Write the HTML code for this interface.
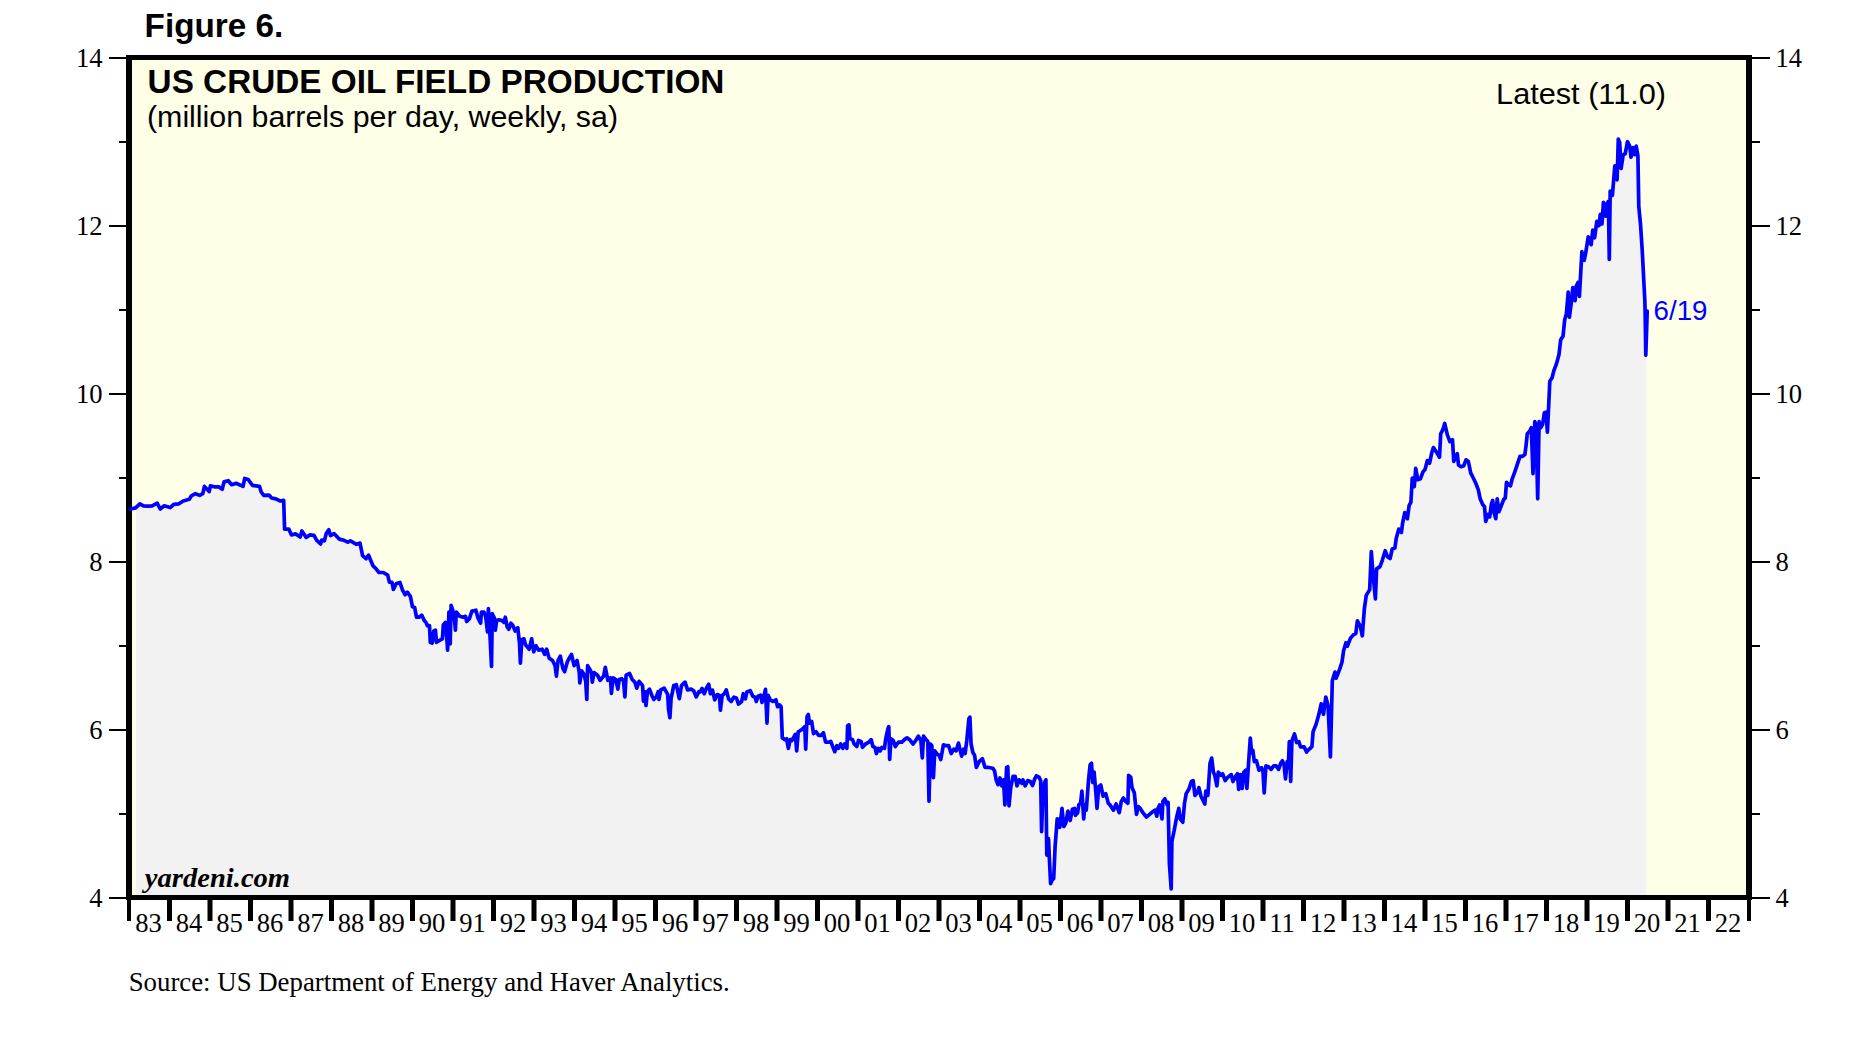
<!DOCTYPE html>
<html><head><meta charset="utf-8"><title>Figure 6. US Crude Oil Field Production</title>
<style>html,body{margin:0;padding:0;background:#fff}svg{display:block}</style></head>
<body>
<svg width="1856" height="1039" viewBox="0 0 1856 1039">
<rect x="0" y="0" width="1856" height="1039" fill="#fff"/>
<rect x="129" y="57" width="1620" height="840" fill="#ffffe8"/>
<path d="M136,896 L136,503.8 L139.9,503.8 L143.4,505.8 L147.7,506.2 L152.1,505.8 L157.2,503.2 L160.2,509.0 L164.2,505.8 L170.2,507.6 L173.7,504.4 L178.9,503.8 L183.2,501.0 L189.3,499.3 L191.4,495.8 L195.4,493.7 L199.7,495.4 L202.8,493.7 L204.4,486.4 L209.2,491.6 L210.4,485.9 L214.4,486.8 L218.8,486.8 L222.2,489.4 L224.0,481.9 L228.3,480.7 L231.7,484.7 L236.1,483.3 L243.0,486.4 L244.7,478.5 L248.2,479.5 L252.5,485.4 L259.5,486.4 L261.2,492.0 L263.8,495.4 L269.0,495.1 L271.6,498.0 L275.9,498.9 L280.3,501.0 L283.7,500.3 L284.6,529.2 L288.9,529.2 L291.5,534.9 L295.8,533.9 L300.2,537.0 L301.9,531.0 L306.2,537.4 L309.7,534.9 L314.0,535.3 L316.6,540.1 L320.6,544.0 L321.8,540.1 L324.4,540.8 L326.2,533.6 L328.8,529.7 L330.5,535.6 L334.0,533.6 L339.2,539.1 L343.5,540.1 L347.8,542.2 L350.4,540.8 L356.5,544.3 L360.0,543.1 L362.6,555.7 L366.0,558.7 L368.6,555.2 L370.3,559.5 L372.9,565.6 L375.5,568.2 L379.0,572.5 L383.3,572.5 L387.7,575.1 L389.4,582.1 L392.0,582.4 L393.4,589.3 L396.3,583.5 L399.3,582.9 L400.0,582.5 L402.6,590.3 L405.2,594.7 L407.3,592.1 L410.4,596.4 L412.5,606.8 L414.7,607.6 L416.5,617.2 L419.1,617.2 L421.7,615.1 L424.3,620.6 L426.0,622.4 L427.4,625.8 L429.5,625.5 L430.3,642.3 L432.1,643.2 L433.8,631.0 L435.5,630.2 L436.4,642.3 L439.0,640.6 L442.4,638.8 L443.3,625.0 L445.4,622.4 L446.8,638.0 L447.6,650.1 L448.9,612.0 L450.2,644.0 L451.1,605.4 L452.8,610.2 L454.6,620.6 L455.4,630.2 L456.3,612.0 L459.8,616.3 L463.2,617.2 L465.5,616.3 L466.7,621.5 L469.3,618.9 L471.9,611.1 L474.5,610.6 L475.9,610.2 L478.0,618.0 L480.6,623.2 L481.4,612.0 L484.0,612.0 L485.8,617.2 L487.5,631.9 L488.4,608.5 L489.7,629.3 L491.5,666.5 L492.3,613.7 L494.4,618.0 L495.3,630.2 L496.7,620.6 L498.8,619.8 L502.2,620.6 L504.0,622.4 L505.3,617.2 L507.1,626.7 L508.8,629.3 L510.9,623.2 L512.6,625.0 L515.2,631.0 L517.8,627.6 L519.5,643.2 L520.4,663.1 L521.8,639.7 L523.9,638.8 L525.6,644.9 L529.1,649.2 L531.7,638.8 L533.7,651.8 L536.0,645.8 L538.6,650.1 L542.1,649.2 L544.7,654.4 L546.7,649.2 L549.0,657.9 L552.5,660.5 L555.1,665.7 L556.4,676.1 L558.0,660.5 L560.3,656.2 L562.9,668.3 L564.6,671.7 L567.2,662.2 L568.9,658.8 L571.5,654.4 L574.1,665.7 L577.1,660.5 L579.3,672.6 L579.8,683.0 L581.6,670.9 L584.0,674.3 L585.7,681.3 L586.8,699.5 L587.6,665.7 L589.7,669.1 L591.4,672.6 L592.3,682.1 L594.0,672.6 L597.5,675.2 L600.1,680.4 L603.6,676.1 L605.3,667.4 L607.9,680.4 L610.5,677.8 L611.4,693.4 L613.1,677.8 L615.7,679.5 L617.9,689.1 L619.2,679.5 L621.8,678.7 L623.5,681.3 L624.9,696.9 L626.1,675.2 L629.6,673.5 L632.2,679.5 L634.8,682.1 L636.8,688.2 L639.1,681.3 L642.6,685.6 L643.4,701.2 L644.6,691.7 L646.0,705.5 L647.4,691.7 L649.5,689.1 L652.1,696.0 L653.8,699.5 L656.4,696.9 L658.1,691.7 L659.0,699.5 L660.7,689.9 L664.2,688.2 L667.7,694.3 L668.5,709.0 L669.9,717.7 L671.1,698.6 L673.7,685.6 L676.3,684.7 L679.3,698.6 L681.5,685.6 L685.0,682.1 L687.6,689.9 L691.1,689.1 L693.7,690.8 L696.3,696.9 L698.9,691.7 L700.0,692.0 L702.1,688.5 L704.3,693.7 L706.6,687.6 L708.7,684.2 L710.4,693.7 L712.5,690.2 L714.7,699.8 L717.3,694.6 L719.4,695.4 L720.4,710.2 L722.2,695.4 L724.3,693.7 L726.3,689.9 L728.6,698.9 L731.2,701.5 L733.8,697.2 L736.4,698.0 L738.5,704.1 L741.6,701.5 L743.3,693.7 L745.4,698.9 L746.8,692.0 L750.2,690.6 L752.8,696.3 L755.1,697.2 L756.3,701.5 L758.0,696.3 L760.6,695.1 L762.0,702.4 L764.1,695.4 L765.5,689.4 L767.0,723.2 L768.1,695.4 L770.2,699.8 L772.8,701.5 L775.9,699.8 L777.6,706.7 L779.7,705.0 L781.1,706.7 L782.3,737.9 L784.9,739.6 L786.6,738.8 L788.4,748.3 L790.1,739.6 L791.8,740.5 L795.3,734.4 L796.7,750.9 L798.2,731.8 L799.6,731.0 L802.2,729.2 L804.8,726.6 L805.7,749.1 L807.1,716.2 L808.3,714.5 L809.5,723.2 L811.7,721.4 L813.5,733.6 L816.1,731.8 L818.7,735.3 L821.3,735.3 L823.4,732.7 L825.6,742.2 L829.1,742.2 L830.8,741.4 L833.4,748.3 L834.8,751.7 L836.9,745.7 L838.6,748.3 L840.7,744.0 L842.9,748.3 L844.7,744.0 L846.9,748.3 L847.6,725.8 L849.0,724.9 L849.9,738.8 L852.5,739.6 L854.2,744.0 L856.8,746.5 L858.5,740.5 L861.1,741.4 L862.5,747.4 L865.5,744.0 L868.9,742.2 L871.2,739.6 L872.9,746.5 L875.0,747.4 L876.4,753.5 L878.4,748.3 L880.2,750.9 L881.9,747.4 L884.5,748.3 L885.7,738.8 L888.0,728.4 L888.8,726.6 L889.7,759.5 L890.9,738.8 L893.2,740.5 L895.4,746.5 L898.4,742.2 L901.8,742.2 L904.4,739.6 L907.0,737.9 L909.6,739.6 L913.1,744.0 L915.7,740.5 L918.3,736.2 L920.9,740.5 L922.3,757.8 L923.5,736.2 L926.1,739.6 L927.8,741.4 L929.0,801.1 L930.4,744.0 L931.8,745.7 L933.4,777.7 L934.8,750.9 L937.4,754.3 L939.1,755.2 L940.8,759.5 L943.4,744.8 L946.0,745.7 L948.6,745.7 L951.2,753.5 L953.8,749.1 L956.1,750.9 L958.5,743.1 L959.9,749.1 L961.6,756.1 L963.7,749.1 L965.1,753.5 L966.8,740.5 L968.9,718.8 L969.9,717.1 L971.1,744.0 L972.9,752.6 L974.6,755.2 L976.3,767.3 L979.3,761.3 L982.4,758.7 L985.0,767.3 L987.6,767.3 L992.8,768.2 L994.5,770.8 L996.3,780.3 L998.0,784.7 L1000.0,778.0 L1001.7,785.8 L1003.5,779.8 L1004.9,804.9 L1006.6,767.6 L1007.8,766.8 L1009.0,805.8 L1010.7,787.6 L1013.0,776.3 L1015.2,776.3 L1017.0,785.8 L1019.1,779.8 L1021.7,783.2 L1022.9,779.8 L1025.1,785.8 L1027.7,780.6 L1030.3,781.5 L1032.6,785.5 L1034.7,778.9 L1036.4,775.8 L1039.0,777.2 L1040.7,780.6 L1041.6,831.7 L1043.0,789.3 L1044.7,782.4 L1045.9,779.8 L1046.8,855.1 L1048.5,838.7 L1049.4,858.6 L1050.6,883.7 L1052.0,880.3 L1053.7,878.5 L1055.1,846.5 L1057.2,818.8 L1058.6,819.6 L1059.8,827.4 L1062.0,808.4 L1063.8,826.5 L1065.8,823.1 L1067.9,811.0 L1070.2,820.5 L1072.4,809.2 L1074.5,808.4 L1075.4,815.3 L1077.6,812.7 L1078.8,804.9 L1080.6,803.2 L1081.9,791.0 L1083.7,818.8 L1084.9,804.9 L1086.3,810.1 L1088.4,781.5 L1090.1,765.0 L1091.5,763.3 L1092.7,782.4 L1094.1,772.0 L1095.6,789.3 L1097.0,808.4 L1098.8,786.7 L1100.8,785.0 L1103.1,796.2 L1105.7,793.6 L1108.3,803.2 L1110.0,804.9 L1113.5,810.1 L1116.1,804.0 L1119.2,812.7 L1121.3,801.4 L1123.4,798.0 L1125.6,801.4 L1127.9,803.2 L1128.6,775.4 L1130.8,777.2 L1132.0,787.6 L1134.3,792.8 L1136.5,814.4 L1138.3,806.6 L1140.3,808.4 L1142.9,812.7 L1146.4,817.0 L1149.0,814.9 L1152.5,811.8 L1155.1,810.1 L1156.8,816.2 L1158.0,808.4 L1159.7,804.9 L1162.0,818.8 L1162.9,801.4 L1164.9,798.8 L1167.2,804.9 L1168.1,802.3 L1169.4,863.8 L1171.2,888.9 L1171.9,841.3 L1174.1,830.9 L1176.7,817.0 L1178.8,808.4 L1180.2,818.8 L1182.8,822.2 L1184.5,803.2 L1186.2,793.6 L1188.8,789.3 L1191.4,781.5 L1193.2,780.6 L1194.9,795.4 L1197.2,792.8 L1198.9,787.6 L1201.0,796.2 L1204.8,804.0 L1205.8,791.0 L1207.9,795.4 L1210.0,763.3 L1211.7,758.1 L1213.4,772.0 L1214.8,775.4 L1216.9,785.8 L1218.3,772.0 L1220.9,775.4 L1222.6,773.7 L1225.2,780.6 L1227.8,777.2 L1231.3,774.6 L1233.0,781.5 L1235.6,776.3 L1237.4,773.7 L1238.7,789.3 L1240.5,774.6 L1242.2,788.4 L1243.9,772.0 L1245.7,770.2 L1246.9,788.4 L1248.6,762.4 L1250.3,738.2 L1251.6,752.9 L1252.9,750.3 L1254.3,761.6 L1256.4,760.7 L1259.0,770.2 L1261.6,767.6 L1263.0,772.0 L1264.2,792.8 L1265.9,765.9 L1268.5,766.8 L1271.1,769.4 L1273.7,765.9 L1276.3,765.9 L1278.6,769.4 L1280.7,763.3 L1282.4,760.7 L1284.1,765.0 L1285.5,778.9 L1287.2,761.6 L1288.5,761.6 L1289.3,741.7 L1290.7,781.5 L1291.9,740.8 L1294.5,733.9 L1296.6,742.5 L1298.9,741.7 L1300.6,746.9 L1304.1,746.9 L1306.7,752.1 L1306.7,751.3 L1309.6,748.9 L1311.9,746.6 L1313.1,731.6 L1315.9,724.7 L1318.9,714.3 L1321.2,703.9 L1323.5,714.3 L1325.8,697.0 L1328.1,706.2 L1330.4,757.0 L1332.3,680.8 L1335.0,672.1 L1336.2,678.1 L1339.6,669.3 L1341.9,662.4 L1343.6,650.8 L1345.9,642.7 L1347.3,646.2 L1350.5,638.1 L1353.5,634.7 L1355.8,633.5 L1357.4,620.8 L1360.4,626.6 L1362.3,635.8 L1364.3,609.3 L1366.2,595.4 L1369.7,589.6 L1371.3,551.5 L1373.1,574.6 L1375.4,598.9 L1376.6,568.9 L1380.0,566.6 L1382.3,560.3 L1385.2,550.7 L1387.5,556.8 L1390.1,558.5 L1392.2,549.0 L1394.9,548.1 L1396.2,538.6 L1398.8,529.1 L1401.4,532.5 L1402.6,523.0 L1404.8,512.6 L1407.4,518.7 L1409.1,505.7 L1410.9,502.2 L1412.3,478.0 L1414.3,486.6 L1415.7,468.4 L1417.8,479.7 L1420.4,478.8 L1423.0,471.9 L1425.1,469.3 L1427.3,460.6 L1429.6,463.2 L1431.7,452.8 L1433.4,447.6 L1436.9,452.8 L1439.5,457.2 L1440.7,433.8 L1442.9,429.5 L1444.7,423.4 L1447.3,434.7 L1449.9,441.6 L1452.5,439.8 L1453.8,461.5 L1455.9,455.4 L1457.3,453.7 L1458.5,465.0 L1461.1,466.7 L1463.7,465.8 L1466.0,459.8 L1468.4,461.5 L1470.7,472.8 L1473.3,478.0 L1475.8,483.2 L1478.4,490.1 L1480.2,498.8 L1482.8,504.8 L1484.5,506.5 L1485.7,521.3 L1488.0,514.3 L1489.7,516.9 L1491.4,504.0 L1492.7,500.5 L1494.0,512.6 L1495.8,518.7 L1497.2,498.8 L1498.9,511.7 L1501.0,506.5 L1503.6,499.6 L1505.3,497.9 L1506.5,482.3 L1508.8,484.9 L1510.5,485.8 L1512.2,478.8 L1514.8,471.9 L1517.4,464.1 L1520.0,456.3 L1522.6,456.3 L1524.9,454.6 L1526.1,445.0 L1527.3,433.8 L1529.6,431.2 L1531.3,427.7 L1533.0,473.6 L1534.8,421.7 L1536.0,425.1 L1537.7,498.8 L1539.1,421.7 L1540.8,427.7 L1542.6,424.3 L1544.3,413.0 L1546.0,412.1 L1547.4,432.1 L1548.6,407.3 L1549.8,381.3 L1552.1,377.8 L1553.8,370.9 L1556.4,364.0 L1559.0,354.4 L1560.7,339.7 L1563.0,336.2 L1564.7,319.8 L1566.4,313.7 L1568.2,292.1 L1569.4,317.2 L1571.1,304.2 L1572.8,287.7 L1575.1,300.7 L1576.3,286.0 L1578.0,282.5 L1579.4,296.4 L1581.9,251.7 L1584.2,260.3 L1585.9,251.7 L1588.2,236.9 L1591.1,244.7 L1592.8,230.0 L1594.6,237.8 L1596.8,221.4 L1598.9,225.7 L1600.3,214.4 L1602.0,224.0 L1603.4,202.3 L1605.8,216.2 L1607.2,203.2 L1608.4,201.4 L1609.3,259.5 L1610.2,191.0 L1612.4,195.4 L1613.6,180.6 L1614.8,165.9 L1617.1,179.8 L1618.3,139.1 L1619.7,142.5 L1621.1,168.5 L1623.2,154.7 L1625.2,153.8 L1627.5,141.7 L1629.7,146.0 L1631.0,157.2 L1633.2,147.7 L1634.9,154.7 L1636.2,146.0 L1637.9,155.5 L1638.8,206.6 L1640.5,224.0 L1642.2,249.9 L1644.0,284.6 L1644.8,300.0 L1645.1,310.2 L1645.8,355.3 L1646.4,355.3 L1646.4,896 Z" fill="#f2f2f2"/>
<path fill="#000" fill-rule="evenodd" d="M126,55 H1752 V900 H126 Z M132,60 V895 H1746 V60 Z"/>
<path d="M130.4,509.0 L135.6,507.9 L139.9,503.8 L143.4,505.8 L147.7,506.2 L152.1,505.8 L157.2,503.2 L160.2,509.0 L164.2,505.8 L170.2,507.6 L173.7,504.4 L178.9,503.8 L183.2,501.0 L189.3,499.3 L191.4,495.8 L195.4,493.7 L199.7,495.4 L202.8,493.7 L204.4,486.4 L209.2,491.6 L210.4,485.9 L214.4,486.8 L218.8,486.8 L222.2,489.4 L224.0,481.9 L228.3,480.7 L231.7,484.7 L236.1,483.3 L243.0,486.4 L244.7,478.5 L248.2,479.5 L252.5,485.4 L259.5,486.4 L261.2,492.0 L263.8,495.4 L269.0,495.1 L271.6,498.0 L275.9,498.9 L280.3,501.0 L283.7,500.3 L284.6,529.2 L288.9,529.2 L291.5,534.9 L295.8,533.9 L300.2,537.0 L301.9,531.0 L306.2,537.4 L309.7,534.9 L314.0,535.3 L316.6,540.1 L320.6,544.0 L321.8,540.1 L324.4,540.8 L326.2,533.6 L328.8,529.7 L330.5,535.6 L334.0,533.6 L339.2,539.1 L343.5,540.1 L347.8,542.2 L350.4,540.8 L356.5,544.3 L360.0,543.1 L362.6,555.7 L366.0,558.7 L368.6,555.2 L370.3,559.5 L372.9,565.6 L375.5,568.2 L379.0,572.5 L383.3,572.5 L387.7,575.1 L389.4,582.1 L392.0,582.4 L393.4,589.3 L396.3,583.5 L399.3,582.9 L400.0,582.5 L402.6,590.3 L405.2,594.7 L407.3,592.1 L410.4,596.4 L412.5,606.8 L414.7,607.6 L416.5,617.2 L419.1,617.2 L421.7,615.1 L424.3,620.6 L426.0,622.4 L427.4,625.8 L429.5,625.5 L430.3,642.3 L432.1,643.2 L433.8,631.0 L435.5,630.2 L436.4,642.3 L439.0,640.6 L442.4,638.8 L443.3,625.0 L445.4,622.4 L446.8,638.0 L447.6,650.1 L448.9,612.0 L450.2,644.0 L451.1,605.4 L452.8,610.2 L454.6,620.6 L455.4,630.2 L456.3,612.0 L459.8,616.3 L463.2,617.2 L465.5,616.3 L466.7,621.5 L469.3,618.9 L471.9,611.1 L474.5,610.6 L475.9,610.2 L478.0,618.0 L480.6,623.2 L481.4,612.0 L484.0,612.0 L485.8,617.2 L487.5,631.9 L488.4,608.5 L489.7,629.3 L491.5,666.5 L492.3,613.7 L494.4,618.0 L495.3,630.2 L496.7,620.6 L498.8,619.8 L502.2,620.6 L504.0,622.4 L505.3,617.2 L507.1,626.7 L508.8,629.3 L510.9,623.2 L512.6,625.0 L515.2,631.0 L517.8,627.6 L519.5,643.2 L520.4,663.1 L521.8,639.7 L523.9,638.8 L525.6,644.9 L529.1,649.2 L531.7,638.8 L533.7,651.8 L536.0,645.8 L538.6,650.1 L542.1,649.2 L544.7,654.4 L546.7,649.2 L549.0,657.9 L552.5,660.5 L555.1,665.7 L556.4,676.1 L558.0,660.5 L560.3,656.2 L562.9,668.3 L564.6,671.7 L567.2,662.2 L568.9,658.8 L571.5,654.4 L574.1,665.7 L577.1,660.5 L579.3,672.6 L579.8,683.0 L581.6,670.9 L584.0,674.3 L585.7,681.3 L586.8,699.5 L587.6,665.7 L589.7,669.1 L591.4,672.6 L592.3,682.1 L594.0,672.6 L597.5,675.2 L600.1,680.4 L603.6,676.1 L605.3,667.4 L607.9,680.4 L610.5,677.8 L611.4,693.4 L613.1,677.8 L615.7,679.5 L617.9,689.1 L619.2,679.5 L621.8,678.7 L623.5,681.3 L624.9,696.9 L626.1,675.2 L629.6,673.5 L632.2,679.5 L634.8,682.1 L636.8,688.2 L639.1,681.3 L642.6,685.6 L643.4,701.2 L644.6,691.7 L646.0,705.5 L647.4,691.7 L649.5,689.1 L652.1,696.0 L653.8,699.5 L656.4,696.9 L658.1,691.7 L659.0,699.5 L660.7,689.9 L664.2,688.2 L667.7,694.3 L668.5,709.0 L669.9,717.7 L671.1,698.6 L673.7,685.6 L676.3,684.7 L679.3,698.6 L681.5,685.6 L685.0,682.1 L687.6,689.9 L691.1,689.1 L693.7,690.8 L696.3,696.9 L698.9,691.7 L700.0,692.0 L702.1,688.5 L704.3,693.7 L706.6,687.6 L708.7,684.2 L710.4,693.7 L712.5,690.2 L714.7,699.8 L717.3,694.6 L719.4,695.4 L720.4,710.2 L722.2,695.4 L724.3,693.7 L726.3,689.9 L728.6,698.9 L731.2,701.5 L733.8,697.2 L736.4,698.0 L738.5,704.1 L741.6,701.5 L743.3,693.7 L745.4,698.9 L746.8,692.0 L750.2,690.6 L752.8,696.3 L755.1,697.2 L756.3,701.5 L758.0,696.3 L760.6,695.1 L762.0,702.4 L764.1,695.4 L765.5,689.4 L767.0,723.2 L768.1,695.4 L770.2,699.8 L772.8,701.5 L775.9,699.8 L777.6,706.7 L779.7,705.0 L781.1,706.7 L782.3,737.9 L784.9,739.6 L786.6,738.8 L788.4,748.3 L790.1,739.6 L791.8,740.5 L795.3,734.4 L796.7,750.9 L798.2,731.8 L799.6,731.0 L802.2,729.2 L804.8,726.6 L805.7,749.1 L807.1,716.2 L808.3,714.5 L809.5,723.2 L811.7,721.4 L813.5,733.6 L816.1,731.8 L818.7,735.3 L821.3,735.3 L823.4,732.7 L825.6,742.2 L829.1,742.2 L830.8,741.4 L833.4,748.3 L834.8,751.7 L836.9,745.7 L838.6,748.3 L840.7,744.0 L842.9,748.3 L844.7,744.0 L846.9,748.3 L847.6,725.8 L849.0,724.9 L849.9,738.8 L852.5,739.6 L854.2,744.0 L856.8,746.5 L858.5,740.5 L861.1,741.4 L862.5,747.4 L865.5,744.0 L868.9,742.2 L871.2,739.6 L872.9,746.5 L875.0,747.4 L876.4,753.5 L878.4,748.3 L880.2,750.9 L881.9,747.4 L884.5,748.3 L885.7,738.8 L888.0,728.4 L888.8,726.6 L889.7,759.5 L890.9,738.8 L893.2,740.5 L895.4,746.5 L898.4,742.2 L901.8,742.2 L904.4,739.6 L907.0,737.9 L909.6,739.6 L913.1,744.0 L915.7,740.5 L918.3,736.2 L920.9,740.5 L922.3,757.8 L923.5,736.2 L926.1,739.6 L927.8,741.4 L929.0,801.1 L930.4,744.0 L931.8,745.7 L933.4,777.7 L934.8,750.9 L937.4,754.3 L939.1,755.2 L940.8,759.5 L943.4,744.8 L946.0,745.7 L948.6,745.7 L951.2,753.5 L953.8,749.1 L956.1,750.9 L958.5,743.1 L959.9,749.1 L961.6,756.1 L963.7,749.1 L965.1,753.5 L966.8,740.5 L968.9,718.8 L969.9,717.1 L971.1,744.0 L972.9,752.6 L974.6,755.2 L976.3,767.3 L979.3,761.3 L982.4,758.7 L985.0,767.3 L987.6,767.3 L992.8,768.2 L994.5,770.8 L996.3,780.3 L998.0,784.7 L1000.0,778.0 L1001.7,785.8 L1003.5,779.8 L1004.9,804.9 L1006.6,767.6 L1007.8,766.8 L1009.0,805.8 L1010.7,787.6 L1013.0,776.3 L1015.2,776.3 L1017.0,785.8 L1019.1,779.8 L1021.7,783.2 L1022.9,779.8 L1025.1,785.8 L1027.7,780.6 L1030.3,781.5 L1032.6,785.5 L1034.7,778.9 L1036.4,775.8 L1039.0,777.2 L1040.7,780.6 L1041.6,831.7 L1043.0,789.3 L1044.7,782.4 L1045.9,779.8 L1046.8,855.1 L1048.5,838.7 L1049.4,858.6 L1050.6,883.7 L1052.0,880.3 L1053.7,878.5 L1055.1,846.5 L1057.2,818.8 L1058.6,819.6 L1059.8,827.4 L1062.0,808.4 L1063.8,826.5 L1065.8,823.1 L1067.9,811.0 L1070.2,820.5 L1072.4,809.2 L1074.5,808.4 L1075.4,815.3 L1077.6,812.7 L1078.8,804.9 L1080.6,803.2 L1081.9,791.0 L1083.7,818.8 L1084.9,804.9 L1086.3,810.1 L1088.4,781.5 L1090.1,765.0 L1091.5,763.3 L1092.7,782.4 L1094.1,772.0 L1095.6,789.3 L1097.0,808.4 L1098.8,786.7 L1100.8,785.0 L1103.1,796.2 L1105.7,793.6 L1108.3,803.2 L1110.0,804.9 L1113.5,810.1 L1116.1,804.0 L1119.2,812.7 L1121.3,801.4 L1123.4,798.0 L1125.6,801.4 L1127.9,803.2 L1128.6,775.4 L1130.8,777.2 L1132.0,787.6 L1134.3,792.8 L1136.5,814.4 L1138.3,806.6 L1140.3,808.4 L1142.9,812.7 L1146.4,817.0 L1149.0,814.9 L1152.5,811.8 L1155.1,810.1 L1156.8,816.2 L1158.0,808.4 L1159.7,804.9 L1162.0,818.8 L1162.9,801.4 L1164.9,798.8 L1167.2,804.9 L1168.1,802.3 L1169.4,863.8 L1171.2,888.9 L1171.9,841.3 L1174.1,830.9 L1176.7,817.0 L1178.8,808.4 L1180.2,818.8 L1182.8,822.2 L1184.5,803.2 L1186.2,793.6 L1188.8,789.3 L1191.4,781.5 L1193.2,780.6 L1194.9,795.4 L1197.2,792.8 L1198.9,787.6 L1201.0,796.2 L1204.8,804.0 L1205.8,791.0 L1207.9,795.4 L1210.0,763.3 L1211.7,758.1 L1213.4,772.0 L1214.8,775.4 L1216.9,785.8 L1218.3,772.0 L1220.9,775.4 L1222.6,773.7 L1225.2,780.6 L1227.8,777.2 L1231.3,774.6 L1233.0,781.5 L1235.6,776.3 L1237.4,773.7 L1238.7,789.3 L1240.5,774.6 L1242.2,788.4 L1243.9,772.0 L1245.7,770.2 L1246.9,788.4 L1248.6,762.4 L1250.3,738.2 L1251.6,752.9 L1252.9,750.3 L1254.3,761.6 L1256.4,760.7 L1259.0,770.2 L1261.6,767.6 L1263.0,772.0 L1264.2,792.8 L1265.9,765.9 L1268.5,766.8 L1271.1,769.4 L1273.7,765.9 L1276.3,765.9 L1278.6,769.4 L1280.7,763.3 L1282.4,760.7 L1284.1,765.0 L1285.5,778.9 L1287.2,761.6 L1288.5,761.6 L1289.3,741.7 L1290.7,781.5 L1291.9,740.8 L1294.5,733.9 L1296.6,742.5 L1298.9,741.7 L1300.6,746.9 L1304.1,746.9 L1306.7,752.1 L1306.7,751.3 L1309.6,748.9 L1311.9,746.6 L1313.1,731.6 L1315.9,724.7 L1318.9,714.3 L1321.2,703.9 L1323.5,714.3 L1325.8,697.0 L1328.1,706.2 L1330.4,757.0 L1332.3,680.8 L1335.0,672.1 L1336.2,678.1 L1339.6,669.3 L1341.9,662.4 L1343.6,650.8 L1345.9,642.7 L1347.3,646.2 L1350.5,638.1 L1353.5,634.7 L1355.8,633.5 L1357.4,620.8 L1360.4,626.6 L1362.3,635.8 L1364.3,609.3 L1366.2,595.4 L1369.7,589.6 L1371.3,551.5 L1373.1,574.6 L1375.4,598.9 L1376.6,568.9 L1380.0,566.6 L1382.3,560.3 L1385.2,550.7 L1387.5,556.8 L1390.1,558.5 L1392.2,549.0 L1394.9,548.1 L1396.2,538.6 L1398.8,529.1 L1401.4,532.5 L1402.6,523.0 L1404.8,512.6 L1407.4,518.7 L1409.1,505.7 L1410.9,502.2 L1412.3,478.0 L1414.3,486.6 L1415.7,468.4 L1417.8,479.7 L1420.4,478.8 L1423.0,471.9 L1425.1,469.3 L1427.3,460.6 L1429.6,463.2 L1431.7,452.8 L1433.4,447.6 L1436.9,452.8 L1439.5,457.2 L1440.7,433.8 L1442.9,429.5 L1444.7,423.4 L1447.3,434.7 L1449.9,441.6 L1452.5,439.8 L1453.8,461.5 L1455.9,455.4 L1457.3,453.7 L1458.5,465.0 L1461.1,466.7 L1463.7,465.8 L1466.0,459.8 L1468.4,461.5 L1470.7,472.8 L1473.3,478.0 L1475.8,483.2 L1478.4,490.1 L1480.2,498.8 L1482.8,504.8 L1484.5,506.5 L1485.7,521.3 L1488.0,514.3 L1489.7,516.9 L1491.4,504.0 L1492.7,500.5 L1494.0,512.6 L1495.8,518.7 L1497.2,498.8 L1498.9,511.7 L1501.0,506.5 L1503.6,499.6 L1505.3,497.9 L1506.5,482.3 L1508.8,484.9 L1510.5,485.8 L1512.2,478.8 L1514.8,471.9 L1517.4,464.1 L1520.0,456.3 L1522.6,456.3 L1524.9,454.6 L1526.1,445.0 L1527.3,433.8 L1529.6,431.2 L1531.3,427.7 L1533.0,473.6 L1534.8,421.7 L1536.0,425.1 L1537.7,498.8 L1539.1,421.7 L1540.8,427.7 L1542.6,424.3 L1544.3,413.0 L1546.0,412.1 L1547.4,432.1 L1548.6,407.3 L1549.8,381.3 L1552.1,377.8 L1553.8,370.9 L1556.4,364.0 L1559.0,354.4 L1560.7,339.7 L1563.0,336.2 L1564.7,319.8 L1566.4,313.7 L1568.2,292.1 L1569.4,317.2 L1571.1,304.2 L1572.8,287.7 L1575.1,300.7 L1576.3,286.0 L1578.0,282.5 L1579.4,296.4 L1581.9,251.7 L1584.2,260.3 L1585.9,251.7 L1588.2,236.9 L1591.1,244.7 L1592.8,230.0 L1594.6,237.8 L1596.8,221.4 L1598.9,225.7 L1600.3,214.4 L1602.0,224.0 L1603.4,202.3 L1605.8,216.2 L1607.2,203.2 L1608.4,201.4 L1609.3,259.5 L1610.2,191.0 L1612.4,195.4 L1613.6,180.6 L1614.8,165.9 L1617.1,179.8 L1618.3,139.1 L1619.7,142.5 L1621.1,168.5 L1623.2,154.7 L1625.2,153.8 L1627.5,141.7 L1629.7,146.0 L1631.0,157.2 L1633.2,147.7 L1634.9,154.7 L1636.2,146.0 L1637.9,155.5 L1638.8,206.6 L1640.5,224.0 L1642.2,249.9 L1644.0,284.6 L1644.8,300.0 L1645.1,310.2 L1645.8,355.3 L1647.2,311.1" fill="none" stroke="#0000ff" stroke-width="3.7" stroke-linejoin="round" stroke-linecap="round"/>
<g fill="#000">
<rect x="109" y="897" width="17" height="2"/>
<rect x="1752" y="897" width="18" height="2"/>
<rect x="119" y="813" width="7" height="2"/>
<rect x="1752" y="813" width="8" height="2"/>
<rect x="109" y="729" width="17" height="2"/>
<rect x="1752" y="729" width="18" height="2"/>
<rect x="119" y="645" width="7" height="2"/>
<rect x="1752" y="645" width="8" height="2"/>
<rect x="109" y="561" width="17" height="2"/>
<rect x="1752" y="561" width="18" height="2"/>
<rect x="119" y="477" width="7" height="2"/>
<rect x="1752" y="477" width="8" height="2"/>
<rect x="109" y="393" width="17" height="2"/>
<rect x="1752" y="393" width="18" height="2"/>
<rect x="119" y="309" width="7" height="2"/>
<rect x="1752" y="309" width="8" height="2"/>
<rect x="109" y="225" width="17" height="2"/>
<rect x="1752" y="225" width="18" height="2"/>
<rect x="119" y="141" width="7" height="2"/>
<rect x="1752" y="141" width="8" height="2"/>
<rect x="109" y="57" width="17" height="2"/>
<rect x="1752" y="57" width="18" height="2"/>
</g>
<g font-family="'Liberation Serif', serif" font-size="26.6" fill="#000">
<text x="102.5" y="906.85" text-anchor="end">4</text>
<text x="1775.5" y="906.85">4</text>
<text x="102.5" y="738.85" text-anchor="end">6</text>
<text x="1775.5" y="738.85">6</text>
<text x="102.5" y="570.85" text-anchor="end">8</text>
<text x="1775.5" y="570.85">8</text>
<text x="102.5" y="402.85" text-anchor="end">10</text>
<text x="1775.5" y="402.85">10</text>
<text x="102.5" y="234.85" text-anchor="end">12</text>
<text x="1775.5" y="234.85">12</text>
<text x="102.5" y="66.85" text-anchor="end">14</text>
<text x="1775.5" y="66.85">14</text>
</g>
<g fill="#000">
<rect x="127.00" y="899" width="4" height="22"/>
<rect x="167.00" y="899" width="5" height="22"/>
<rect x="207.50" y="899" width="5" height="22"/>
<rect x="248.00" y="899" width="5" height="22"/>
<rect x="288.50" y="899" width="5" height="22"/>
<rect x="329.00" y="899" width="5" height="22"/>
<rect x="369.50" y="899" width="5" height="22"/>
<rect x="410.00" y="899" width="5" height="22"/>
<rect x="450.50" y="899" width="5" height="22"/>
<rect x="491.00" y="899" width="5" height="22"/>
<rect x="531.50" y="899" width="5" height="22"/>
<rect x="572.00" y="899" width="5" height="22"/>
<rect x="612.50" y="899" width="5" height="22"/>
<rect x="653.00" y="899" width="5" height="22"/>
<rect x="693.50" y="899" width="5" height="22"/>
<rect x="734.00" y="899" width="5" height="22"/>
<rect x="774.50" y="899" width="5" height="22"/>
<rect x="815.00" y="899" width="5" height="22"/>
<rect x="855.50" y="899" width="5" height="22"/>
<rect x="896.00" y="899" width="5" height="22"/>
<rect x="936.50" y="899" width="5" height="22"/>
<rect x="977.00" y="899" width="5" height="22"/>
<rect x="1017.50" y="899" width="5" height="22"/>
<rect x="1058.00" y="899" width="5" height="22"/>
<rect x="1098.50" y="899" width="5" height="22"/>
<rect x="1139.00" y="899" width="5" height="22"/>
<rect x="1179.50" y="899" width="5" height="22"/>
<rect x="1220.00" y="899" width="5" height="22"/>
<rect x="1260.50" y="899" width="5" height="22"/>
<rect x="1301.00" y="899" width="5" height="22"/>
<rect x="1341.50" y="899" width="5" height="22"/>
<rect x="1382.00" y="899" width="5" height="22"/>
<rect x="1422.50" y="899" width="5" height="22"/>
<rect x="1463.00" y="899" width="5" height="22"/>
<rect x="1503.50" y="899" width="5" height="22"/>
<rect x="1544.00" y="899" width="5" height="22"/>
<rect x="1584.50" y="899" width="5" height="22"/>
<rect x="1625.00" y="899" width="5" height="22"/>
<rect x="1665.50" y="899" width="5" height="22"/>
<rect x="1706.00" y="899" width="5" height="22"/>
<rect x="1747.00" y="899" width="4" height="22"/>
</g>
<g font-family="'Liberation Serif', serif" font-size="26.6" fill="#000">
<text x="135.30" y="932">83</text>
<text x="175.80" y="932">84</text>
<text x="216.30" y="932">85</text>
<text x="256.80" y="932">86</text>
<text x="297.30" y="932">87</text>
<text x="337.80" y="932">88</text>
<text x="378.30" y="932">89</text>
<text x="418.80" y="932">90</text>
<text x="459.30" y="932">91</text>
<text x="499.80" y="932">92</text>
<text x="540.30" y="932">93</text>
<text x="580.80" y="932">94</text>
<text x="621.30" y="932">95</text>
<text x="661.80" y="932">96</text>
<text x="702.30" y="932">97</text>
<text x="742.80" y="932">98</text>
<text x="783.30" y="932">99</text>
<text x="823.80" y="932">00</text>
<text x="864.30" y="932">01</text>
<text x="904.80" y="932">02</text>
<text x="945.30" y="932">03</text>
<text x="985.80" y="932">04</text>
<text x="1026.30" y="932">05</text>
<text x="1066.80" y="932">06</text>
<text x="1107.30" y="932">07</text>
<text x="1147.80" y="932">08</text>
<text x="1188.30" y="932">09</text>
<text x="1228.80" y="932">10</text>
<text x="1269.30" y="932">11</text>
<text x="1309.80" y="932">12</text>
<text x="1350.30" y="932">13</text>
<text x="1390.80" y="932">14</text>
<text x="1431.30" y="932">15</text>
<text x="1471.80" y="932">16</text>
<text x="1512.30" y="932">17</text>
<text x="1552.80" y="932">18</text>
<text x="1593.30" y="932">19</text>
<text x="1633.80" y="932">20</text>
<text x="1674.30" y="932">21</text>
<text x="1714.80" y="932">22</text>
</g>
<text id="fig" x="144.6" y="36.9" font-family="'Liberation Sans', sans-serif" font-size="32.5" font-weight="bold" textLength="138.6" lengthAdjust="spacingAndGlyphs">Figure 6.</text>
<text id="title" x="147.6" y="92.56" font-family="'Liberation Sans', sans-serif" font-size="32.6" font-weight="bold" textLength="576.8" lengthAdjust="spacingAndGlyphs">US CRUDE OIL FIELD PRODUCTION</text>
<text id="sub" x="147" y="127.4" font-family="'Liberation Sans', sans-serif" font-size="30" textLength="471" lengthAdjust="spacingAndGlyphs">(million barrels per day, weekly, sa)</text>
<text id="latest" x="1496.1" y="103.6" font-family="'Liberation Sans', sans-serif" font-size="30" textLength="169.9" lengthAdjust="spacingAndGlyphs">Latest (11.0)</text>
<text id="date" x="1653.5" y="320.05" font-family="'Liberation Sans', sans-serif" font-size="27.5" fill="#0000ff" textLength="54" lengthAdjust="spacingAndGlyphs">6/19</text>
<text id="yard" x="144.8" y="886.9" font-family="'Liberation Serif', serif" font-size="28" font-weight="bold" font-style="italic" textLength="145.3" lengthAdjust="spacingAndGlyphs">yardeni.com</text>
<text id="src" x="128.7" y="990.9" font-family="'Liberation Serif', serif" font-size="26.6" textLength="601" lengthAdjust="spacingAndGlyphs">Source: US Department of Energy and Haver Analytics.</text>
</svg>
</body></html>
